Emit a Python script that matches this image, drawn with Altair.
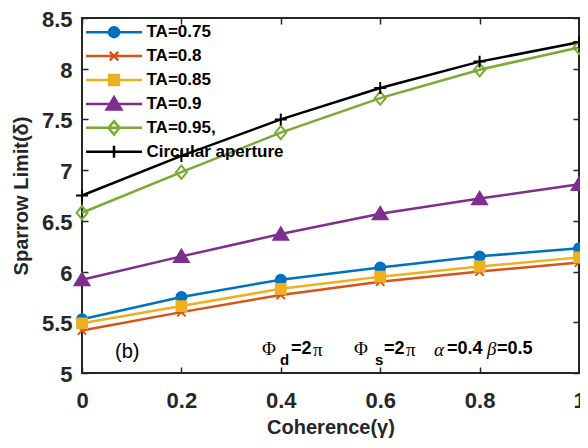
import altair as alt
import pandas as pd

# ---------------- data ----------------
coherence = [0.0, 0.2, 0.4, 0.6, 0.8, 1.0]
series_names = ["TA=0.75", "TA=0.8", "TA=0.85", "TA=0.9", "TA=0.95,", "Circular aperture"]
ta_075 = [5.53, 5.75, 5.92, 6.04, 6.15, 6.23]
ta_080 = [5.42, 5.60, 5.77, 5.90, 6.00, 6.09]
ta_085 = [5.49, 5.66, 5.83, 5.95, 6.05, 6.14]
ta_090 = [5.92, 6.15, 6.37, 6.57, 6.72, 6.86]
ta_095 = [6.58, 6.98, 7.37, 7.71, 7.99, 8.21]
circular = [6.75, 7.14, 7.50, 7.81, 8.07, 8.26]
x_ticks = [0, 0.2, 0.4, 0.6, 0.8, 1.0]
y_ticks = [5, 5.5, 6, 6.5, 7, 7.5, 8, 8.5]

# ---------------- styles ----------------
colors = ["#0072BD", "#D95319", "#EDB120", "#7E2F8E", "#77AC30", "#000000"]
fills = ["#0072BD", "#D95319", "#EDB120", "#7E2F8E", "transparent", "#000000"]
markers = [
    "M-0.71,0A0.71,0.71,0,1,1,0.71,0A0.71,0.71,0,1,1,-0.71,0Z",
    "M-0.6,-0.6L0.6,0.6M-0.6,0.6L0.6,-0.6",
    "M-0.7,-0.7H0.7V0.7H-0.7Z",
    "M0,-0.95L1.05,0.8L-1.05,0.8Z",
    "M0,-0.95L0.78,0L0,0.95L-0.78,0Z",
    "M-0.85,0H0.85M0,-0.85V0.85",
]
# legend glyph: invisible move-to points (equal bounds), line segment, then the marker
legend_paths = ["M0,-0.95M0,0.95M-4,0H4" + m for m in markers]

all_values = [ta_075, ta_080, ta_085, ta_090, ta_095, circular]
rows = []
for name, vals in zip(series_names, all_values):
    for xv, yv in zip(coherence, vals):
        rows.append({"coherence": xv, "limit": yv, "series": name})
df = pd.DataFrame(rows)

FONT = "Liberation Sans"
SERIF = "Liberation Serif"
INK = "#262626"
LEFT = 82  # page x of plot's left edge
TOP = 18   # page y of plot's top edge

xscale = alt.Scale(domain=[0, 1], nice=False, zero=False)
yscale = alt.Scale(domain=[5, 8.5], nice=False, zero=False)

common_axis = dict(domain=False, grid=False, offset=-6, tickSize=6, tickWidth=1.5,
                   tickColor=INK, labelColor=INK, titleColor=INK)

x_bottom = alt.Axis(orient="bottom", values=x_ticks, format="~g", title="Coherence(γ)",
                    labelPadding=17, titlePadding=6, labelFont=FONT, labelFontSize=22,
                    labelFontWeight="bold", labelFlush=False, labelOverlap=False,
                    titleFont=FONT, titleFontSize=20, titleFontWeight="bold", **common_axis)
y_left = alt.Axis(orient="left", values=y_ticks, format="~g", title="Sparrow Limit(δ)",
                  labelPadding=10, labelOffset=1.5, titlePadding=10, labelFont=FONT,
                  labelFontSize=22, labelFontWeight="bold", labelOverlap=False,
                  titleFont=FONT, titleFontSize=20, titleFontWeight="bold", **common_axis)
x_top = alt.Axis(orient="top", values=x_ticks, labels=False, title=None, **common_axis)
y_right = alt.Axis(orient="right", values=y_ticks, labels=False, title=None, **common_axis)

color_scale = alt.Scale(domain=series_names, range=colors)
fill_scale = alt.Scale(domain=series_names, range=fills)

lines = alt.Chart(df).mark_line(strokeWidth=2.5).encode(
    x=alt.X("coherence:Q", scale=xscale, axis=x_bottom),
    y=alt.Y("limit:Q", scale=yscale, axis=y_left),
    color=alt.Color("series:N", scale=color_scale, legend=None),
    detail="series:N",
)

points = alt.Chart(df).mark_point(size=196, opacity=1, strokeWidth=2, filled=False).encode(
    x=alt.X("coherence:Q", scale=xscale, axis=x_top),
    y=alt.Y("limit:Q", scale=yscale, axis=y_right),
    color=alt.Color("series:N", scale=color_scale, legend=None),
    fill=alt.Fill("series:N", scale=fill_scale, legend=None),
    shape=alt.Shape("series:N", scale=alt.Scale(domain=series_names, range=markers), legend=None),
)

leg = alt.Legend(title=None, orient="none", legendX=23.5, legendY=5.7, padding=0,
                 labelFont=FONT, labelFontSize=17, labelFontWeight="bold", labelColor="#000000",
                 labelOffset=24, labelLimit=400, rowPadding=-1.1, gridAlign="all", symbolSize=196,
                 symbolStrokeWidth=2.5, symbolFillColor="transparent",
                 symbolStrokeColor="#000000", symbolOpacity=1)

legend_layer = alt.Chart(df).transform_filter("false").mark_point(
    size=196, opacity=1, strokeWidth=2.5, filled=False).encode(
    color=alt.Color("series:N", scale=color_scale, legend=leg),
    fill=alt.Fill("series:N", scale=fill_scale, legend=leg),
    shape=alt.Shape("series:N", scale=alt.Scale(domain=series_names, range=legend_paths), legend=leg),
)

# annotation tokens: text, page x (left), page y (middle), font, size, weight, style
tokens = [
    ("(b)", 115, 352, FONT, 20, "normal", "normal"),
    ("Φ", 262, 349, SERIF, 19, "normal", "normal"),
    ("d", 280, 360, FONT, 15, "bold", "normal"),
    ("=2", 291, 349, FONT, 18, "bold", "normal"),
    ("π", 313, 350, SERIF, 19, "normal", "normal"),
    ("Φ", 354, 349, SERIF, 19, "normal", "normal"),
    ("s", 375, 360, FONT, 15, "bold", "normal"),
    ("=2", 384, 349, FONT, 18, "bold", "normal"),
    ("π", 406, 350, SERIF, 19, "normal", "normal"),
    ("α", 434, 350, SERIF, 19, "normal", "italic"),
    ("=0.4", 447, 349, FONT, 18, "bold", "normal"),
    ("β", 487, 349, SERIF, 19, "normal", "italic"),
    ("=0.5", 497, 349, FONT, 18, "bold", "normal"),
]
annots = []
for t, px, py, fnt, fs, fw, st in tokens:
    annots.append(
        alt.Chart(pd.DataFrame({"t": [t]})).mark_text(
            align="left", baseline="middle", font=fnt, fontSize=fs,
            fontWeight=fw, fontStyle=st, color="#000000"
        ).encode(text="t:N", x=alt.value(px - LEFT), y=alt.value(py - TOP))
    )

chart = alt.layer(lines, points, legend_layer, *annots).resolve_scale(
    color="independent", fill="independent", shape="independent"
).properties(
    width=497, height=355,
    autosize=alt.AutoSizeParams(type="none"),
    padding={"left": LEFT - 8, "top": TOP - 8, "right": 1, "bottom": 65},
    background="white",
).configure_view(stroke=INK, strokeWidth=2)

chart.save("out.html", embed_options={"renderer": "svg", "actions": False})
